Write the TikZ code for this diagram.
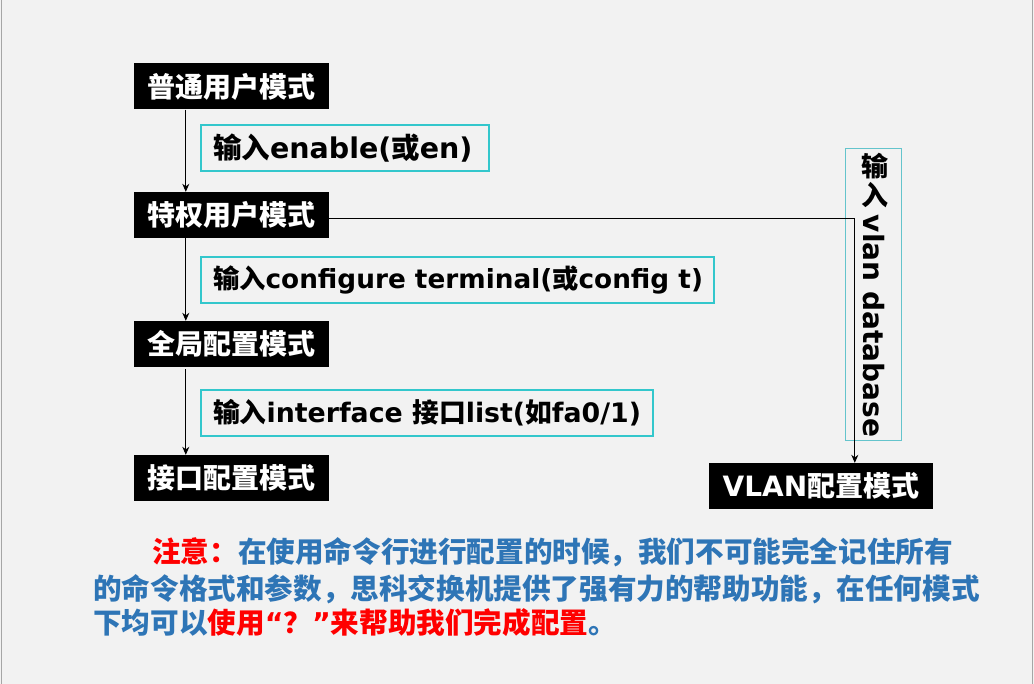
\documentclass[tikz,border=0pt]{standalone}
\usepackage{fontspec}
\setmainfont{DejaVu Sans}
\newfontfamily\cjk{Noto Sans CJK SC}
\newcommand\C[1]{{\cjk\bfseries #1}}
\newcommand\Q[1]{{\normalfont\bfseries #1}}
\usetikzlibrary{arrows.meta}
\definecolor{bgc}{HTML}{F2F2F2}
\definecolor{cyanb}{RGB}{51,199,204}
\definecolor{cyanl}{RGB}{100,196,204}
\definecolor{noteblue}{HTML}{2E75B6}
\definecolor{notered}{HTML}{FF0000}
\definecolor{edgegray}{HTML}{A6A6A6}
\tikzset{
  modebox/.style={fill=black, text=white, inner sep=0pt, minimum height=46pt,
    minimum width=195pt, font=\fontsize{28}{32}\selectfont\bfseries},
  cmdbox/.style={draw=cyanb, line width=1.5pt, minimum height=46pt, inner xsep=12pt,
    inner ysep=0pt, font=\fontsize{26.8}{30}\selectfont\bfseries},
  arr/.style={line width=0.9pt, -{Stealth[length=8pt,width=7pt]}},
  note/.style={anchor=base west, inner sep=0pt, font=\fontsize{28.6}{34}\selectfont\cjk\bfseries},
}
\begin{document}
\begin{tikzpicture}[x=1pt,y=-1pt]
\fill[bgc] (0,0) rectangle (1034,684);
\useasboundingbox (0,0) rectangle (1034,684);
\draw[edgegray, line width=0.8pt] (1.5,0) -- (1.5,684);
\draw[edgegray, line width=0.8pt] (1032.5,0) -- (1032.5,684);

% mode boxes
\node[modebox] (m1) at (231.5,86.5) {\C{普通用户模式}};
\node[modebox] (m2) at (231.5,215) {\C{特权用户模式}};
\node[modebox] (m3) at (231.5,344) {\C{全局配置模式}};
\node[modebox] (m4) at (231.5,478) {\C{接口配置模式}};
\node[modebox, minimum width=224pt] (mv) at (821,486) {VLAN\C{配置模式}};

% command boxes
\node[cmdbox, font=\fontsize{28.5}{30}\selectfont\bfseries] (c1) at (345,148) {\makebox[264pt][l]{\C{输入}enable(\C{或}en)}};
\node[cmdbox, font=\fontsize{26.3}{30}\selectfont\bfseries] (c2) at (457.5,280) {\makebox[489pt][l]{\C{输入}configure terminal(\C{或}config t)}};
\node[cmdbox] (c3) at (427,413) {\makebox[428pt][l]{\C{输入}interface \C{接口}list(\C{如}fa0/1)}};

% vertical vlan box
\node[draw=cyanl, line width=1pt, minimum width=56pt, minimum height=292pt, inner sep=0pt] (cv) at (873,295) {};

% connectors
\draw[arr] ([xshift=52pt]m1.south west) -- ([xshift=52pt]m2.north west);
\draw[arr] ([xshift=52pt]m2.south west) -- ([xshift=52pt]m3.north west);
\draw[arr] ([xshift=52pt,yshift=-2pt]m3.south west) -- ([xshift=52pt]m4.north west);
\draw[arr] ([yshift=-3pt]m2.east) -| ([xshift=146pt]mv.north west);

% vertical text
\node[inner sep=0pt, font=\fontsize{27}{30}\selectfont] (v1) at (875,166) {\C{输}};
\node[inner sep=0pt, font=\fontsize{27}{30}\selectfont] (v2) at (875,195) {\C{入}};
\node[inner sep=0pt, rotate=-90, font=\fontsize{28}{30}\selectfont\bfseries] (v3) at (874,326) {vlan database};

% note
\node[note, text=notered] (n1) at (152,562) {注意：\textcolor{noteblue}{在使用命令行进行配置的时候，我们不可能完全记住所有}};
\node[note, text=noteblue] (n2) at (93,599) {的命令格式和参数，思科交换机提供了强有力的帮助功能，在任何模式};
\node[note, text=noteblue] (n3) at (93,633) {下均可以\textcolor{notered}{使用\Q{“}？\Q{”}来帮助我们完成配置}。};
\end{tikzpicture}
\end{document}
